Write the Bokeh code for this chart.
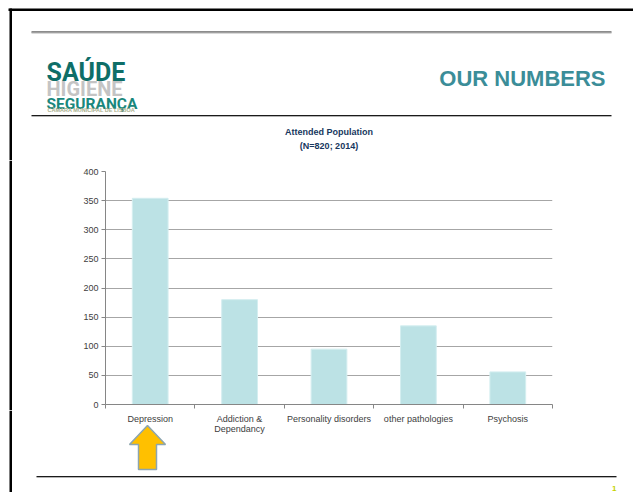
from bokeh.plotting import figure
from bokeh.layouts import column, row
from bokeh.models import Range1d, FixedTicker
from bokeh.core.properties import value
from bokeh.embed import file_html
from bokeh.resources import INLINE

# ---- data ----
categories = ["Depression", "Addiction & Dependancy", "Personality disorders",
              "other pathologies", "Psychosis"]
tick_labels = ["Depression", "Addiction &\nDependancy", "Personality disorders",
               "other pathologies", "Psychosis"]
values = [354, 180, 95, 135, 56]
y_ticks = [0, 50, 100, 150, 200, 250, 300, 350, 400]
chart_title = ["Attended Population", "(N=820; 2014)"]
slide_title = "OUR NUMBERS"
logo_lines = ["SAÚDE", "HIGIENE", "SEGURANÇA", "CÂMARA MUNICIPAL DE LISBOA"]
page_number = "1"

# ---- page geometry (pixels) ----
PW, PH = 633, 492
FL, FR, FT, FB = 105, 552, 171, 404      # chart frame edges
HEAD_H = 160                              # header strip height
STRIP_W = 60                              # left strip width in chart row
ROW_BOTTOM = 410
N = len(categories)
band = (FR - FL) / N
xs = [i + 0.5 for i in range(N)]

FONT = "Liberation Sans"
LOGO = "Roboto"


def canvas_fig(w, y0, y1, x_range=None, extra=None):
    f = figure(width=w, height=y1 - y0,
               x_range=x_range if x_range is not None else Range1d(0, w),
               y_range=Range1d(y1, y0), x_axis_location=None, y_axis_location=None,
               min_border=0, output_backend="svg", toolbar_location=None)
    if extra:
        f.extra_x_ranges = extra
    f.outline_line_color = None
    f.background_fill_color = "white"
    f.border_fill_color = "white"
    f.grid.visible = False
    f.frame_align = False
    return f


def bar(f, x0, y0, x1, y1, color, **kw):
    f.quad(left=[x0], right=[x1], top=[y0], bottom=[y1], fill_color=color,
           line_color=None, **kw)


def txt(f, x, y, s, size, color, font=FONT, style="normal", align="left", **kw):
    f.text(x=[x], y=[y], text=[s], text_font=value(font), text_font_size=value(size),
           text_font_style=style, text_color=color, text_align=align,
           text_baseline="alphabetic", **kw)


# ================= header =================
head = canvas_fig(PW, 0, HEAD_H)
bar(head, 8, 8, PW, 10.5, "#000000")            # slide frame top
bar(head, 9, 8, 11.5, HEAD_H, "#000000")        # slide frame left
bar(head, 31, 31, 611, 32.0, "#1a1a1a")
bar(head, 31, 32.0, 611, 33.0, "#b4b4b4")
bar(head, 31, 114.5, 611, 115.5, "#1a1a1a")
bar(head, 31, 115.5, 611, 116.5, "#b4b4b4")

txt(head, 46, 72, logo_lines[0], "25px", "#0e6e68", font=LOGO, style="bold")
txt(head, 46, 88, logo_lines[1], "20px", "#c4c4c4", font=LOGO, style="bold")
txt(head, 46, 103, logo_lines[2], "15.5px", "#19877c", font=LOGO, style="bold")
txt(head, 47, 109.5, logo_lines[3], "5.5px", "#a8ae8c", style="bold")

txt(head, 605, 78, slide_title, "22px", "#3b8d98", style="bold", align="right")

title_x = (FL + FR) / 2
txt(head, title_x, 131, chart_title[0], "9px", "#17375e", style="bold", align="center")
txt(head, title_x, 145, chart_title[1], "9px", "#17375e", style="bold", align="center")

# ================= chart row =================
strip = canvas_fig(STRIP_W, HEAD_H, ROW_BOTTOM)
bar(strip, 9, HEAD_H, 11.5, ROW_BOTTOM, "#000000")

cw = PW - STRIP_W
p = figure(width=cw, height=ROW_BOTTOM - HEAD_H, x_range=Range1d(0, N),
           y_range=Range1d(0, 400), output_backend="svg", toolbar_location=None,
           min_border_left=FL - STRIP_W, min_border_right=PW - FR,
           min_border_top=FT - HEAD_H, min_border_bottom=ROW_BOTTOM - FB)
p.outline_line_color = None
p.background_fill_color = "white"
p.border_fill_color = "white"
p.frame_align = False

p.vbar(x=xs, top=values, width=0.4, fill_color="#bce2e5", line_color="#d4eef0",
       line_width=1)

p.xgrid.grid_line_color = None
p.ygrid.grid_line_color = "#a6a6a6"
p.ygrid.grid_line_width = 1

ya = p.yaxis[0]
ya.ticker = FixedTicker(ticks=y_ticks)
ya.axis_line_color = "#868686"
ya.major_tick_line_color = "#868686"
ya.major_tick_out = 4
ya.major_tick_in = 0
ya.minor_tick_line_color = None
ya.major_label_standoff = 3
ya.major_label_text_font = FONT
ya.major_label_text_font_size = "9px"
ya.major_label_text_color = "#404040"

xa = p.xaxis[0]
# category boundaries carry the tick marks; the category names sit below the row
xa.ticker = FixedTicker(ticks=[], minor_ticks=list(range(N + 1)))
xa.axis_line_color = "#868686"
xa.major_tick_line_color = None
xa.major_tick_out = 0
xa.major_tick_in = 0
xa.minor_tick_line_color = "#868686"
xa.minor_tick_out = 4
xa.minor_tick_in = 0
xa.major_label_standoff = 0

# ================= footer =================
foot = canvas_fig(PW, ROW_BOTTOM, PH,
                  x_range=Range1d(-FL / band, N + (PW - FR) / band),
                  extra={"px": Range1d(0, PW)})
# category labels, placed through the same category scale as the bars
for x, lab in zip(xs, tick_labels):
    for k, line in enumerate(lab.split("\n")):
        txt(foot, x, 418 + 10.5 * k, line, "9px", "#404040", align="center")

bar(foot, 9, ROW_BOTTOM, 11.5, PH, "#000000", x_range_name="px")
bar(foot, 36, 475.5, 616, 476.5, "#1a1a1a", x_range_name="px")
bar(foot, 36, 476.5, 616, 477.5, "#b4b4b4", x_range_name="px")
txt(foot, 616, 488, page_number, "8px", "#c5d200", style="bold", align="right",
    x_range_name="px")

arrow_x = [147, 165, 156, 156, 138, 138, 129]
arrow_y = [425, 444, 444, 469, 469, 444, 444]
foot.patch(x=arrow_x, y=arrow_y, fill_color="#ffc000", line_color="#8ca5b0",
           line_width=1.5, x_range_name="px")

layout = column(head, row(strip, p, spacing=0), foot, spacing=0)
open("out.html", "w").write(file_html(layout, INLINE))
